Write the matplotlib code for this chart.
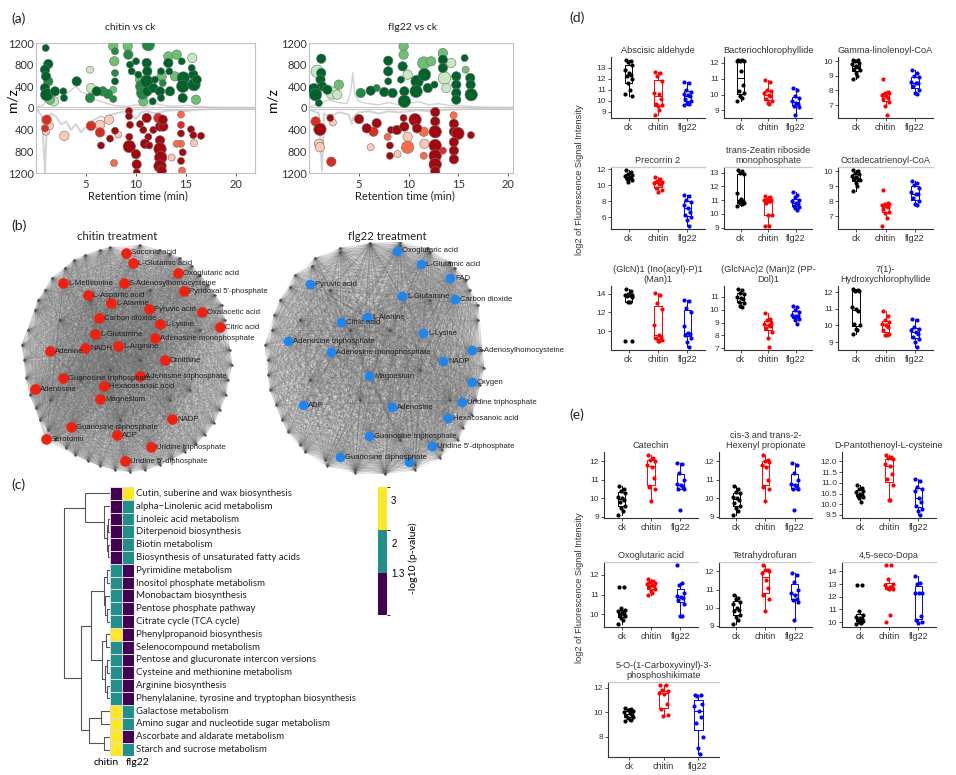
import numpy as np
import matplotlib
matplotlib.use("Agg")
import matplotlib.pyplot as plt
from matplotlib.colors import ListedColormap, BoundaryNorm
from matplotlib.collections import LineCollection
from matplotlib.cm import ScalarMappable

plt.rcParams['font.family'] = ['Liberation Sans', 'DejaVu Sans']
TITLE_FONT = ['Lato', 'DejaVu Sans']

# ---------------- (a) differential features: (retention time, m/z, fold-change class, abundance class)
chitin_up = [
    (0.97, 1108, 0, 1), (1.23, 812, 0, 2), (0.9, 708, 0, 2), (1.0, 585, 0, 2), (1.23, 492, 1, 2),
    (0.9, 369, 0, 2), (1.07, 246, 0, 3), (1.4, 154, 2, 2), (1.9, 308, 0, 2), (1.8, 123, 3, 2),
    (2.73, 308, 0, 1), (2.8, 185, 0, 1), (4.07, 492, 0, 2), (5.4, 707, 3, 1), (5.5, 369, 3, 2),
    (5.4, 185, 1, 2), (6.07, 308, 0, 2), (6.67, 308, 1, 2), (7.2, 258, 1, 2), (7.73, 166, 1, 1),
    (7.73, 1139, 2, 2), (7.9, 1046, 1, 1), (7.83, 862, 2, 2), (7.9, 646, 1, 1), (7.9, 492, 0, 1),
    (7.73, 338, 2, 1), (9.17, 1139, 2, 2), (9.23, 985, 1, 2), (9.4, 800, 0, 1), (9.57, 677, 0, 1),
    (10.0, 862, 0, 1), (10.4, 523, 2, 2), (10.23, 615, 0, 1), (10.57, 400, 1, 3), (10.67, 277, 1, 3),
    (10.73, 123, 2, 2), (11.23, 1169, 1, 3), (11.07, 831, 0, 2), (11.13, 677, 0, 2), (11.07, 492, 0, 3),
    (11.13, 308, 0, 2), (11.73, 369, 0, 2), (11.67, 123, 0, 1), (11.9, 523, 0, 1), (12.4, 308, 0, 2),
    (12.5, 185, 0, 1), (12.67, 461, 1, 1), (12.5, 677, 0, 1), (13.23, 954, 2, 2), (13.23, 831, 0, 2),
    (13.33, 677, 0, 1), (13.4, 308, 0, 2), (14.07, 985, 2, 2), (14.57, 862, 0, 1), (14.73, 554, 0, 3),
    (14.67, 400, 0, 3), (14.67, 185, 0, 2), (15.63, 923, 3, 2), (15.73, 615, 0, 2), (15.8, 431, 0, 3),
    (16.07, 523, 0, 2), (16.0, 154, 2, 2), (15.57, 738, 0, 1), (13.9, 585, 2, 2), (12.57, 585, 2, 2),
]
chitin_down = [
    (1.07, 216, 1, 2), (0.9, 375, 1, 1), (1.0, 438, 3, 1), (1.4, 330, 3, 1), (2.83, 514, 3, 2),
    (5.5, 330, 1, 2), (6.4, 311, 3, 2), (6.4, 451, 1, 2), (7.3, 216, 3, 2), (6.5, 692, 0, 1),
    (7.4, 565, 0, 1), (7.9, 419, 0, 1), (8.23, 489, 3, 1), (7.8, 1016, 2, 1), (9.3, 57, 0, 1),
    (9.3, 152, 0, 1), (9.4, 311, 0, 1), (9.33, 533, 0, 1), (9.33, 711, 0, 3), (10.0, 851, 0, 2),
    (10.07, 1041, 0, 2), (10.07, 1187, 0, 1), (10.4, 298, 0, 1), (10.73, 406, 0, 1), (11.07, 184, 0, 2),
    (11.23, 533, 0, 1), (10.9, 660, 0, 2), (11.33, 692, 0, 1), (11.73, 406, 0, 1), (12.23, 184, 1, 2),
    (12.4, 343, 0, 2), (12.4, 597, 0, 2), (12.4, 756, 0, 3), (12.47, 914, 0, 3), (12.4, 1073, 0, 3),
    (12.57, 1156, 0, 2), (12.73, 343, 0, 2), (12.67, 216, 0, 2), (14.5, 121, 2, 1), (14.5, 311, 1, 1),
    (14.5, 470, 0, 1), (14.5, 660, 2, 1), (14.67, 819, 0, 1), (14.5, 978, 0, 1), (14.6, 1156, 2, 1),
    (15.5, 394, 0, 1), (15.73, 501, 0, 1), (15.8, 648, 3, 1), (16.5, 514, 0, 1), (14.07, 660, 2, 1),
    (13.57, 914, 3, 1),
]
flg22_up = [
    (1.23, 910, 0, 2), (0.83, 677, 3, 3), (1.23, 646, 0, 2), (1.16, 523, 0, 2), (1.33, 400, 0, 2),
    (0.49, 338, 0, 3), (0.66, 246, 0, 3), (0.99, 92, 0, 1), (1.84, 338, 0, 2), (2.34, 277, 3, 3),
    (3.0, 431, 2, 2), (2.84, 246, 3, 2), (5.2, 277, 1, 2), (6.2, 320, 0, 2), (6.8, 369, 1, 1),
    (7.56, 295, 0, 2), (7.96, 873, 0, 2), (7.96, 677, 0, 2), (7.96, 492, 0, 1), (8.4, 277, 0, 2),
    (9.51, 1139, 2, 2), (9.51, 985, 2, 2), (9.41, 769, 0, 2), (9.24, 523, 0, 1), (9.58, 308, 0, 2),
    (9.58, 123, 0, 3), (9.91, 615, 3, 2), (10.86, 492, 0, 3), (10.76, 308, 0, 3), (11.53, 831, 2, 3),
    (11.6, 615, 0, 3), (11.94, 369, 0, 2), (12.27, 862, 2, 2), (12.61, 431, 0, 1), (13.45, 1015, 2, 2),
    (13.45, 892, 0, 2), (13.45, 738, 0, 2), (13.62, 554, 3, 3), (13.79, 369, 3, 2), (14.29, 831, 3, 2),
    (14.8, 585, 0, 2), (14.8, 431, 0, 2), (14.8, 277, 0, 2), (14.8, 154, 0, 2), (15.64, 923, 0, 1),
    (15.74, 708, 2, 1), (16.2, 554, 0, 2), (16.24, 431, 0, 2), (16.3, 246, 0, 3),
]
flg22_down = [
    (0.66, 248, 1, 2), (1.1, 394, 0, 3), (2.14, 184, 0, 1), (2.4, 267, 3, 1), (1.0, 660, 3, 2),
    (1.1, 724, 3, 2), (2.24, 991, 1, 2), (5.03, 204, 0, 2), (5.8, 375, 0, 2), (6.8, 280, 0, 2),
    (6.48, 438, 1, 2), (6.2, 724, 3, 1), (8.13, 692, 0, 1), (8.13, 882, 0, 1), (7.9, 533, 2, 1),
    (8.24, 406, 0, 1), (8.84, 406, 0, 2), (8.9, 851, 3, 1), (9.5, 184, 0, 1), (9.58, 343, 0, 2),
    (9.91, 724, 2, 3), (9.91, 533, 3, 2), (10.66, 216, 0, 3), (10.86, 375, 0, 2), (11.53, 438, 2, 2),
    (11.6, 660, 3, 2), (11.53, 882, 2, 1), (12.68, 76, 0, 2), (12.68, 248, 0, 2), (12.68, 438, 0, 3),
    (12.68, 692, 0, 3), (12.68, 882, 0, 3), (12.68, 1042, 0, 3), (12.68, 1168, 0, 2), (13.45, 787, 1, 1),
    (14.53, 133, 2, 1), (14.56, 292, 0, 2), (14.56, 438, 0, 2), (14.97, 470, 0, 3), (14.56, 629, 0, 2),
    (14.56, 787, 0, 2), (14.56, 946, 0, 2), (16.27, 501, 0, 1),
]
# background ion chromatogram traces (retention time, m/z)
chitin_tic_up = [(0.2, 20), (0.8, 60), (1.2, 250), (1.5, 120), (2, 180), (2.5, 220), (3, 260), (3.5, 330),
                 (4, 400), (4.5, 300), (5, 260), (5.5, 200), (6, 150), (6.5, 120), (7, 90), (7.5, 60),
                 (8, 40), (9, 30), (10, 60), (11, 40), (12, 80), (13, 40), (14, 30), (15, 50), (16, 30),
                 (17, 20), (19, 10), (22, 10)]
chitin_tic_down = [(0.2, 50), (0.6, 150), (0.9, 1200), (1.1, 200), (1.5, 100), (2, 160), (2.5, 300),
                   (3, 250), (3.5, 400), (4, 300), (4.5, 450), (5, 350), (5.5, 250), (6, 200), (6.5, 150),
                   (7, 200), (7.5, 120), (8, 100), (8.5, 80), (9, 60), (10, 200), (10.5, 80), (11, 60),
                   (12, 100), (13, 50), (14, 40), (15, 60), (16, 30), (18, 20), (22, 10)]
flg22_tic_up = [(0.2, 30), (1, 80), (2, 150), (3, 100), (3.8, 80), (4.2, 300), (4.4, 650), (4.6, 250),
                (5, 120), (6, 80), (7, 60), (8, 100), (9, 60), (10, 80), (11, 120), (12, 60), (13, 80),
                (14, 50), (15, 40), (16, 30), (18, 15), (21, 10)]
flg22_tic_down = [(0.2, 40), (1, 100), (1.3, 1150), (1.5, 100), (2, 150), (3, 80), (4, 120), (4.3, 300),
                  (4.5, 150), (5, 80), (6, 60), (7, 100), (8, 60), (9, 80), (10, 60), (11, 40), (12, 60),
                  (13, 40), (14, 30), (16, 20), (21, 10)]

# ---------------- (b) correlation networks (layout coordinates)
chitin_nodes = ["Succinic acid", "L-Glutamic acid", "Oxoglutaric acid", "L-Methionine",
                "S-Adenosylhomocysteine", "Pyridoxal 5'-phosphate", "L-Aspartic acid", "L-Alanine",
                "Pyruvic acid", "Oxalacetic acid", "Carbon dioxide", "L-Lysine", "Citric acid",
                "L-Glutamine", "Adenosine monophosphate", "Adenine", "NADH", "L-Arginine", "Ornithine",
                "Guanosine triphosphate", "Adenosine triphosphate", "Hexacosanoic acid", "Adenosine",
                "Magnesium", "NADP", "Guanosine diphosphate", "ADP", "Serotonin", "Uridine triphosphate",
                "Uridine 5'-diphosphate"]
chitin_x = [126, 133, 178, 63, 124, 184, 88, 111, 149, 202, 99, 160, 220, 95, 155, 50, 85, 118, 165,
            63, 140, 104, 35, 100, 172, 71, 117, 46, 151, 125]
chitin_y = [253, 263, 273, 283, 283, 291, 295, 303, 309, 312, 318, 324, 327, 334, 338, 351, 348, 346,
            360, 378, 376, 386, 389, 399, 419, 427, 435, 439, 447, 461]
chitin_bg_x = [28, 24, 30, 40, 55, 75, 100, 130, 160, 185, 205, 220, 228, 230, 225, 215, 200, 180, 160,
               140, 110, 85, 65, 45, 35, 60, 80, 150, 190, 120, 90, 170, 50, 200, 140, 110,
               22, 26, 36, 48, 66, 88, 115, 145, 172, 196, 214, 226, 232, 222, 208, 192, 170, 100,
               74, 52, 38]
chitin_bg_y = [330, 360, 395, 420, 440, 455, 466, 472, 465, 452, 435, 410, 380, 350, 320, 295, 275, 258,
               250, 245, 247, 255, 268, 290, 310, 320, 380, 290, 390, 420, 300, 400, 400, 330, 360, 370,
               345, 378, 408, 430, 448, 461, 470, 470, 459, 444, 423, 395, 365, 305, 285, 266, 254, 250,
               260, 278, 300]

flg22_nodes = ["Oxoglutaric acid", "L-Glutamic acid", "FAD", "Pyruvic acid", "L-Glutamine",
               "Carbon dioxide", "L-Alanine", "Citric acid", "L-Lysine", "Adenosine triphosphate",
               "S-Adenosylhomocysteine", "Adenosine monophosphate", "NADP", "Magnesium", "Oxygen", "ADP",
               "Uridine triphosphate", "Adenosine", "Hexacosanoic acid", "Guanosine triphosphate",
               "Uridine 5'-diphosphate", "Guanosine diphosphate", ""]
flg22_x = [397, 421, 450, 310, 402, 455, 367, 341, 423, 288, 472, 331, 443, 369, 472, 303, 462, 392,
           448, 369, 432, 340, 409]
flg22_y = [251, 264, 278, 284, 296, 299, 317, 322, 333, 341, 350, 352, 361, 376, 382, 405, 402, 407,
           418, 436, 446, 457, 462]
flg22_bg_x = [268, 272, 280, 295, 315, 340, 370, 400, 430, 455, 470, 478, 482, 480, 472, 458, 440, 415,
              385, 355, 325, 300, 282, 270, 300, 330, 430, 450, 310, 400, 360, 420, 350, 390,
              265, 268, 276, 288, 305, 327, 355, 385, 415, 442, 463, 476, 484, 478, 466, 450, 428,
              400, 370, 340, 312, 290, 274]
flg22_bg_y = [360, 330, 300, 275, 258, 248, 243, 245, 252, 268, 290, 320, 350, 385, 415, 440, 458, 470,
              474, 470, 460, 445, 420, 390, 320, 290, 300, 400, 380, 440, 400, 370, 330, 330,
              345, 375, 405, 432, 452, 466, 473, 473, 465, 450, 428, 400, 368, 305, 280, 262, 248,
              242, 244, 252, 266, 287, 315]

# ---------------- (c) KEGG pathway enrichment, -log10(p)
pathways = ["Cutin, suberine and wax biosynthesis", "alpha\u2212Linolenic acid metabolism",
            "Linoleic acid metabolism", "Diterpenoid biosynthesis", "Biotin metabolism",
            "Biosynthesis of unsaturated fatty acids", "Pyrimidine metabolism",
            "Inositol phosphate metabolism", "Monobactam biosynthesis", "Pentose phosphate pathway",
            "Citrate cycle (TCA cycle)", "Phenylpropanoid biosynthesis", "Selenocompound metabolism",
            "Pentose and glucuronate intercon versions", "Cysteine and methionine metabolism",
            "Arginine biosynthesis", "Phenylalanine, tyrosine and tryptophan biosynthesis",
            "Galactose metabolism", "Amino sugar and nucleotide sugar metabolism",
            "Ascorbate and aldarate metabolism", "Starch and sucrose metabolism"]
chitin_logp = [1, 1, 1, 1, 1, 1, 2, 2, 2, 2, 2, 3, 2, 2, 2, 2, 2, 3, 3, 3, 3]
flg22_logp = [3, 2, 2, 2, 2, 2, 1, 1, 1, 1, 1, 1, 1, 1, 1, 1, 1, 2, 2, 1, 2]
# row clustering: (child a, child b, height); ids >= 21 refer to earlier merges
row_merges = [(2, 3, 1.5), (4, 5, 2), (21, 22, 3), (1, 23, 6), (0, 24, 24),
              (6, 7, 3), (9, 10, 3), (8, 27, 4.5), (26, 28, 6),
              (11, 12, 4), (13, 14, 2.5), (15, 16, 3), (31, 32, 4.5), (30, 33, 8), (29, 34, 18),
              (17, 18, 9), (19, 20, 6), (36, 37, 20), (35, 38, 28), (25, 39, 44)]

# ---------------- (d)/(e) log2 fluorescence intensity per group (ck, chitin, flg22)
abscisic_aldehyde = ([13.7, 13.6, 13.5, 13.2, 12.8, 12.5, 12.3, 12.2, 12.0, 11.6, 11.0, 10.6, 10.4],
                     [12.6, 12.5, 12.2, 11.8, 10.7, 10.6, 10.2, 9.7, 9.6, 9.5, 9.2, 8.7],
                     [11.7, 11.6, 11.0, 10.8, 10.6, 10.5, 10.4, 10.2, 10.0, 9.8, 9.7, 9.6])
bacteriochlorophyllide = ([12.2, 12.2, 12.15, 12.1, 12.1, 11.5, 10.6, 10.2, 10.1, 9.9, 9.8, 9.6],
                          [10.9, 10.8, 10.3, 10.2, 10.1, 10.0, 9.9, 9.7, 9.6, 9.5, 9.4],
                          [10.4, 10.3, 9.9, 9.8, 9.6, 9.5, 9.4, 9.3, 9.2, 8.7])
gamma_linolenoyl_coa = ([10.1, 10.1, 10.0, 9.9, 9.8, 9.7, 9.6, 9.5, 9.4, 9.2, 9.0, 8.8],
                        [8.8, 7.9, 7.8, 7.8, 7.7, 7.6, 7.5, 7.4, 7.2, 6.9, 6.3],
                        [9.4, 9.2, 9.0, 8.9, 8.6, 8.5, 8.5, 8.3, 8.0, 7.8, 7.75])
precorrin_2 = ([11.9, 11.6, 11.4, 11.2, 11.1, 11.0, 10.9, 10.8, 10.6, 10.4],
               [11.0, 10.8, 10.5, 10.4, 10.3, 10.2, 10.1, 9.6, 9.4, 9.1],
               [8.8, 8.7, 8.2, 7.9, 7.5, 7.2, 6.6, 6.3, 6.1, 5.7, 4.9])
trans_zeatin = ([13.2, 13.1, 13.0, 12.9, 11.5, 11.1, 10.9, 10.9, 10.8, 10.8, 10.7, 10.6],
                [11.3, 11.2, 11.1, 11.0, 11.0, 10.9, 10.9, 10.8, 9.9, 9.9, 9.1, 9.1],
                [11.6, 11.4, 11.2, 11.0, 10.9, 10.8, 10.7, 10.6, 10.5, 10.4, 10.3])
octadecatrienoyl_coa = ([10.1, 10.0, 9.9, 9.8, 9.7, 9.6, 9.5, 9.5, 9.4, 9.2, 9.0, 8.7],
                        [8.75, 7.9, 7.85, 7.8, 7.75, 7.7, 7.6, 7.5, 7.3, 7.2, 6.9, 6.35],
                        [9.35, 9.2, 9.1, 8.9, 8.6, 8.5, 8.5, 8.2, 8.0, 7.8, 7.75])
glcn_ino_man = ([14.5, 14.3, 14.0, 13.9, 13.85, 13.8, 13.8, 13.7, 13.6, 13.1, 13.1, 8.9, 8.9],
                [14.1, 13.9, 13.0, 12.4, 10.7, 9.6, 9.4, 9.3, 9.1, 9.0, 8.9],
                [13.3, 13.2, 12.5, 12.0, 10.5, 9.8, 9.7, 9.6, 9.3, 8.8, 8.3])
glcnac_man_dol = ([11.6, 11.5, 11.3, 11.2, 11.0, 10.9, 10.8, 10.6, 10.5, 10.3, 10.2],
                  [9.7, 9.3, 9.2, 9.0, 8.9, 8.8, 8.7, 8.6, 8.3, 7.8, 7.1],
                  [10.3, 10.2, 10.0, 9.8, 9.6, 9.5, 9.5, 9.4, 9.3, 9.2, 8.9])
hydroxychlorophyllide = ([12.2, 12.15, 12.1, 12.1, 11.1, 11.0, 10.9, 10.1, 10.0, 9.8, 9.7, 9.5],
                         [10.85, 10.6, 10.3, 10.2, 10.1, 10.0, 9.9, 9.7, 9.5, 9.4, 9.4],
                         [10.4, 10.3, 9.9, 9.8, 9.7, 9.6, 9.5, 9.3, 9.2, 9.0, 8.7])
catechin = ([10.65, 10.5, 10.4, 10.3, 10.1, 10.0, 9.9, 9.8, 9.6, 9.5, 9.3, 9.1],
            [12.35, 12.2, 12.1, 12.0, 11.8, 11.7, 11.1, 10.6, 10.5, 9.85],
            [11.9, 11.85, 11.4, 11.0, 10.8, 10.7, 10.6, 10.5, 10.5, 9.35])
hexenyl_propionate = ([10.65, 10.5, 10.35, 10.3, 10.1, 10.0, 9.9, 9.75, 9.6, 9.5, 9.3, 9.1],
                      [12.35, 12.1, 12.05, 11.95, 11.8, 11.7, 11.0, 10.6, 10.5, 9.85],
                      [11.9, 11.8, 11.4, 11.0, 10.8, 10.75, 10.6, 10.5, 10.5, 9.35])
pantothenoyl_cysteine = ([10.9, 10.75, 10.7, 10.6, 10.55, 10.5, 10.45, 10.4, 10.35, 10.3, 10.1],
                         [12.3, 12.2, 12.15, 12.1, 11.9, 11.8, 11.4, 11.2, 10.9, 10.2, 10.2],
                         [11.2, 11.1, 10.8, 10.7, 10.6, 10.3, 10.1, 9.9, 9.8, 9.7, 9.5])
oxoglutaric_acid = ([11.4, 11.4, 10.3, 10.2, 10.15, 10.1, 10.0, 9.95, 9.9, 9.8, 9.7, 9.5],
                    [11.8, 11.7, 11.65, 11.6, 11.55, 11.5, 11.45, 11.4, 11.3, 11.2, 11.1, 10.95],
                    [12.5, 11.6, 11.5, 11.1, 10.9, 10.85, 10.8, 10.7, 10.5, 9.9, 9.9])
tetrahydrofuran = ([10.7, 10.55, 10.5, 10.3, 10.2, 10.0, 9.9, 9.8, 9.6, 9.5, 9.3, 9.1],
                   [12.35, 12.1, 12.05, 12.0, 11.9, 11.5, 11.1, 10.7, 10.5, 9.8],
                   [11.9, 11.8, 11.4, 11.0, 10.8, 10.7, 10.5, 10.45, 10.3, 9.35])
seco_dopa = ([12.9, 12.9, 10.85, 10.6, 10.4, 10.3, 10.25, 10.2, 10.1, 10.0, 9.9, 9.85],
             [14.5, 14.5, 13.4, 13.0, 12.9, 12.8, 12.75, 12.7, 12.6, 12.6, 10.6, 10.0],
             [13.6, 13.1, 13.0, 12.3, 12.3, 12.3, 10.5, 10.2, 10.0, 9.9])
carboxyvinyl_shikimate = ([10.35, 10.3, 10.2, 10.1, 10.0, 9.9, 9.8, 9.7, 9.6, 9.5, 9.4, 9.3],
                          [12.2, 12.2, 11.8, 11.7, 11.6, 11.5, 10.7, 10.25, 9.8, 9.7],
                          [11.45, 11.4, 11.35, 10.7, 10.5, 10.1, 9.6, 9.1, 8.0, 7.1, 6.6])

GROUPS = ["ck", "chitin", "flg22"]
# fixed horizontal jitter offsets used for the dots
JITTER = [-0.10, 0.07, -0.03, 0.12, -0.13, 0.02, 0.09, -0.07, 0.13, -0.01, 0.05, -0.11, 0.10, -0.05]

# ======================================================================
W, H = 956, 775
fig = plt.figure(figsize=(W / 100, H / 100), dpi=100)


def px_axes(l, t, r, b):
    return fig.add_axes([l / W, 1 - b / H, (r - l) / W, (b - t) / H])


def px_text(x, y, s, **kw):
    kw.setdefault('ha', 'center')
    kw.setdefault('va', 'center')
    fig.text(x / W, 1 - y / H, s, **kw)


# ---------------- (a)
GREENS = ['#00632a', '#1f8a43', '#6cc072', '#c7e9c0']
REDS = ['#a3080f', '#de2a20', '#fb6a4a', '#fcc9b4']
BUBBLE_S = {1: 26, 2: 46, 3: 80}


def bubble_panel(box, up, down, tic_up, tic_down, xmax):
    ax = px_axes(*box)
    rt, mz = zip(*tic_up)
    ax.plot(rt, mz, color='#d2d2d2', lw=1.0, zorder=1)
    rt, mz = zip(*tic_down)
    ax.plot(rt, -np.array(mz), color='#d2d2d2', lw=1.4, zorder=1)
    for pts, sign, shades in ((up, 1, GREENS), (down, -1, REDS)):
        rt, mz, fc, ab = (np.array(v) for v in zip(*pts))
        order = np.argsort(-fc, kind='stable')
        ax.scatter(rt[order], sign * mz[order], s=[BUBBLE_S[a] for a in ab[order]],
                   c=[shades[f] for f in fc[order]], edgecolors='#707070', linewidths=0.4, zorder=3)
    ax.axhline(15, color='#c8c8c8', lw=0.8, zorder=2)
    ax.axhline(-15, color='#c8c8c8', lw=0.8, zorder=2)
    ax.set_xlim(0, xmax)
    ax.set_ylim(-1200, 1200)
    ticks = [-1200, -800, -400, 0, 400, 800, 1200]
    ax.set_yticks(ticks, [str(abs(t)) for t in ticks])
    ax.set_xticks([5, 10, 15, 20])
    for s in ax.spines.values():
        s.set_color('#c0c0c0')
        s.set_linewidth(0.8)
    ax.tick_params(axis='both', labelsize=8, colors='#333333', length=2.5, width=0.6, pad=1.5)
    ax.tick_params(axis='y', length=0)
    for lab in ax.get_xticklabels() + ax.get_yticklabels():
        lab.set_fontfamily(TITLE_FONT)
    return ax


bubble_panel((36, 43, 255, 173), chitin_up, chitin_down, chitin_tic_up, chitin_tic_down, 21.9)
bubble_panel((309, 43, 513, 173), flg22_up, flg22_down, flg22_tic_up, flg22_tic_down, 20.5)
px_text(130, 27, "chitin vs ck", fontsize=7.5, family=TITLE_FONT, color='#222222')
px_text(412, 27, "flg22 vs ck", fontsize=7.5, family=TITLE_FONT, color='#222222')
px_text(12, 100, "m/z", fontsize=10, rotation=90, family=TITLE_FONT)
px_text(272, 100, "m/z", fontsize=10, rotation=90, family=TITLE_FONT)
px_text(138, 196, "Retention time (min)", fontsize=8, family=TITLE_FONT, color='#222222')
px_text(405, 196, "Retention time (min)", fontsize=8, family=TITLE_FONT, color='#222222')

# ---------------- (b)
axn = px_axes(0, 242, 560, 478)
axn.set_xlim(0, 560)
axn.set_ylim(478, 242)
axn.axis('off')


def network(names, xs, ys, bg_x, bg_y, color, size):
    px = np.concatenate([xs, bg_x]).astype(float)
    py = np.concatenate([ys, bg_y]).astype(float)
    n = len(px)
    segs = [((px[i], py[i]), (px[j], py[j])) for i in range(n) for j in range(i + 1, n)]
    axn.add_collection(LineCollection(segs, colors='#6a6a6a', linewidths=0.5, alpha=0.14, zorder=1))
    axn.scatter(bg_x, bg_y, s=3, c='#4a4a4a', linewidths=0, zorder=2)
    axn.scatter(xs, ys, s=size, c=color, linewidths=0, zorder=3)
    for name, x, y in zip(names, xs, ys):
        if name:
            axn.text(x + 5, y, name, fontsize=5.6, ha='left', va='center', color='#222222', zorder=4)


network(chitin_nodes, chitin_x, chitin_y, chitin_bg_x, chitin_bg_y, '#f2200e', 58)
network(flg22_nodes, flg22_x, flg22_y, flg22_bg_x, flg22_bg_y, '#1f86f0', 48)
px_text(117, 236, "chitin treatment", fontsize=8.2, family=TITLE_FONT, color='#222222')
px_text(387, 236, "flg22 treatment", fontsize=8.2, family=TITLE_FONT, color='#222222')

# ---------------- (c)
cmap = ListedColormap(['#440154', '#21908c', '#fde725'])
norm = BoundaryNorm([0.32, 1.3, 2.3, 3.3], cmap.N)
n_rows = len(pathways)

axh = px_axes(110, 487, 134, 756)
vals = np.array([chitin_logp, flg22_logp]).T
axh.pcolormesh(vals, cmap=cmap, norm=norm, edgecolors='#dcdcdc', linewidth=0.4)
axh.set_xlim(0, 2)
axh.set_ylim(n_rows, 0)
axh.axis('off')
for i, name in enumerate(pathways):
    axh.text(2.2, i + 0.5, name, fontsize=6.9, va='center', ha='left', family=TITLE_FONT,
             color='#222222', clip_on=False)
axh.text(0.75, n_rows + 0.5, "chitin", fontsize=7.5, va='center', ha='right', family=TITLE_FONT,
         clip_on=False)
axh.text(1.3, n_rows + 0.5, "flg22", fontsize=7.5, va='center', ha='left', family=TITLE_FONT,
         clip_on=False)

axd = px_axes(62, 487, 110, 756)
pos = {i: i + 0.5 for i in range(n_rows)}
hgt = {i: 0.0 for i in range(n_rows)}
for k, (a, b, h) in enumerate(row_merges):
    axd.plot([hgt[a], h, h, hgt[b]], [pos[a], pos[a], pos[b], pos[b]], color='#555555', lw=0.8)
    pos[n_rows + k] = (pos[a] + pos[b]) / 2
    hgt[n_rows + k] = h
axd.set_xlim(46, 0)
axd.set_ylim(n_rows, 0)
axd.axis('off')

cax = px_axes(378, 487, 387, 615)
cb = fig.colorbar(ScalarMappable(norm=norm, cmap=cmap), cax=cax, ticks=[1.3, 2, 3],
                  spacing='proportional')
cb.outline.set_visible(False)
cax.set_yticklabels(['1.3', '2', '3'])
cax.tick_params(length=0, labelsize=7, pad=3)
px_text(413, 558, "-log10 (p-value)", fontsize=7.5, rotation=90, family=TITLE_FONT)

# ---------------- (d)/(e)
GROUP_COLORS = ['black', '#ff0000', '#0000ff']


def box_panel(box, title, data, yticks, top_line=False, fmt='{:g}'):
    ax = px_axes(*box)
    for k, (vals, col) in enumerate(zip(data, GROUP_COLORS)):
        p = k + 1
        ax.boxplot([vals], positions=[p], widths=0.26, showfliers=False, whis=1.5,
                   boxprops=dict(color=col, lw=0.7), whiskerprops=dict(color=col, lw=0.7),
                   medianprops=dict(color=col, lw=0.7), capprops=dict(visible=False))
        xs = [p + JITTER[i % len(JITTER)] for i in range(len(vals))]
        ax.scatter(xs, vals, s=9, c=col, linewidths=0, zorder=3)
    lo = min(min(v) for v in data)
    hi = max(max(v) for v in data)
    pad = (hi - lo) * 0.05
    ax.set_ylim(lo - pad, hi + pad)
    ax.set_xlim(0.4, 3.6)
    ax.set_xticks([1, 2, 3], GROUPS)
    ax.set_yticks(yticks, [fmt.format(t) for t in yticks])
    ax.tick_params(axis='x', labelsize=6.5, length=2, width=0.6, colors='#333333', pad=1.5)
    ax.tick_params(axis='y', labelsize=6, length=2, width=0.6, colors='#333333', pad=1.5)
    for side in ('left', 'bottom'):
        ax.spines[side].set_color('#333333')
        ax.spines[side].set_linewidth(0.8)
    ax.spines['right'].set_visible(False)
    if top_line:
        ax.spines['top'].set_color('#c8c8c8')
        ax.spines['top'].set_linewidth(0.9)
    else:
        ax.spines['top'].set_visible(False)
    ax.set_title(title, fontsize=6.6, color='#333333', pad=3, linespacing=1.05)
    return ax


d_cols = [(611, 705), (724, 812), (838, 933)]
d_rows = [(57, 118), (167, 229), (286, 350)]
d_panels = [
    ("Abscisic aldehyde", abscisic_aldehyde, [9, 10, 11, 12, 13]),
    ("Bacteriochlorophyllide", bacteriochlorophyllide, [9, 10, 11, 12]),
    ("Gamma-linolenoyl-CoA", gamma_linolenoyl_coa, [7, 8, 9, 10]),
    ("Precorrin 2", precorrin_2, [6, 8, 10, 12]),
    ("trans-Zeatin riboside\nmonophosphate", trans_zeatin, [9, 10, 11, 12, 13]),
    ("Octadecatrienoyl-CoA", octadecatrienoyl_coa, [7, 8, 9, 10]),
    ("(GlcN)1 (Ino(acyl)-P)1\n(Man)1", glcn_ino_man, [10, 12, 14]),
    ("(GlcNAc)2 (Man)2 (PP-\nDol)1", glcnac_man_dol, [7, 8, 9, 10, 11]),
    ("7(1)-\nHydroxychlorophyllide", hydroxychlorophyllide, [9, 10, 11, 12]),
]
for idx, (title, data, ticks) in enumerate(d_panels):
    r, c = divmod(idx, 3)
    (l, rr), (t, b) = d_cols[c], d_rows[r]
    box_panel((l, t, rr, b), title, data, ticks, top_line=(r == 1))

e_cols = [(604, 698), (719, 812), (842, 936)]
e_rows = [(452, 518), (562, 627), (682, 757)]
e_panels = [
    ("Catechin", catechin, [9, 10, 11, 12], '{:g}'),
    ("cis-3 and trans-2-\nHexenyl propionate", hexenyl_propionate, [9, 10, 11, 12], '{:g}'),
    ("D-Pantothenoyl-L-cysteine", pantothenoyl_cysteine, [9.5, 10.0, 10.5, 11.0, 11.5, 12.0], '{:.1f}'),
    ("Oxoglutaric acid", oxoglutaric_acid, [10, 11, 12], '{:g}'),
    ("Tetrahydrofuran", tetrahydrofuran, [9, 10, 11, 12], '{:g}'),
    ("4,5-seco-Dopa", seco_dopa, [10, 11, 12, 13, 14], '{:g}'),
    ("5-O-(1-Carboxyvinyl)-3-\nphosphoshikimate", carboxyvinyl_shikimate, [8, 10, 12], '{:g}'),
]
for idx, (title, data, ticks, fmt) in enumerate(e_panels):
    r, c = divmod(idx, 3)
    (l, rr), (t, b) = e_cols[c], e_rows[r]
    if r == 2:
        l, rr = 608, 719
    box_panel((l, t, rr, b), title, data, ticks, top_line=(r >= 1), fmt=fmt)

px_text(580, 180, "log2 of Fluorescence Signal Intensity", fontsize=6.6, rotation=90, color='#333333')
px_text(580, 588, "log2 of Fluorescence Signal Intensity", fontsize=6.6, rotation=90, color='#333333')

# panel letters
for lab, x, y in (("(a)", 19, 19), ("(b)", 19, 226), ("(c)", 18, 485), ("(d)", 577, 18), ("(e)", 577, 415)):
    px_text(x, y, lab, fontsize=10, family=TITLE_FONT, color='#222222')

fig.savefig("out.png", dpi=100)
